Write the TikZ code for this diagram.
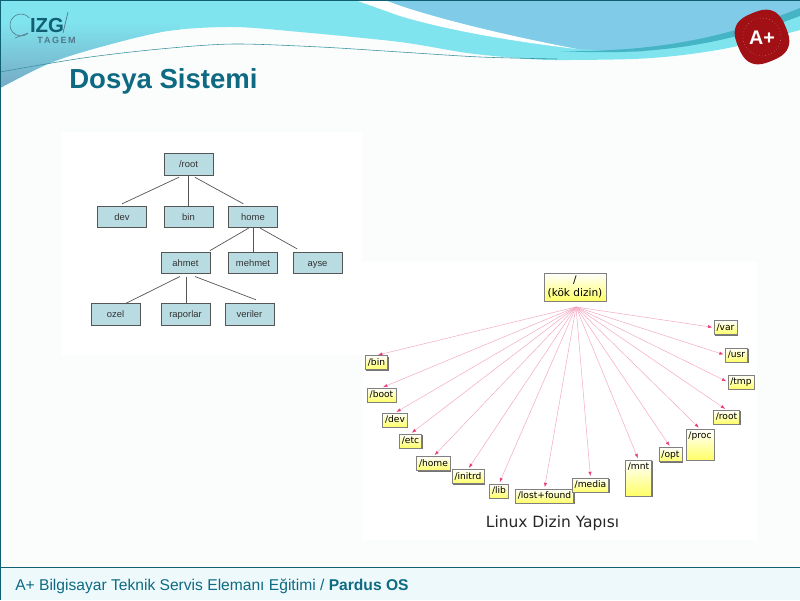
\documentclass[tikz,border=0pt]{standalone}
\usepackage{fontspec}
\setmainfont{Liberation Sans}
\newfontfamily\dejavu{DejaVu Sans}
\usepackage{xcolor}
\usetikzlibrary{arrows.meta, shadows, calc}
\definecolor{pagebg}{HTML}{FBFDFD}
\definecolor{edgeline}{HTML}{0F5F75}
\definecolor{titleblue}{HTML}{0E6A82}
\definecolor{footerbg}{HTML}{EEF9FC}
\definecolor{cyantop}{HTML}{7FE4EE}
\definecolor{steelblue}{HTML}{76A9C4}
\definecolor{skyblue}{HTML}{80CCE8}
\definecolor{bandteal}{HTML}{45B5C5}
\definecolor{sealred}{HTML}{A01015}
\definecolor{treefill}{HTML}{B8DCE2}
\definecolor{treeline}{HTML}{555555}
\definecolor{linkpink}{HTML}{F5A8C4}
\definecolor{tippink}{HTML}{E83E78}
\definecolor{boxyellow}{HTML}{FFFF66}

\begin{document}
\begin{tikzpicture}[
    x=0.25mm, y=-0.25mm,
    treebox/.style={draw=treeline, line width=0.5pt, fill=treefill, minimum width=12.2mm,
                    minimum height=5.4mm, inner sep=0pt, text=black!80,
                    text height=2mm, text depth=0.4mm,
                    font=\fontsize{6.7}{8}\selectfont},
    treeline/.style={draw=treeline, line width=0.5pt},
    yellowbox/.style={draw=black!50, line width=0.3pt, top color=white, bottom color=boxyellow,
                   drop shadow={shadow xshift=0.25mm, shadow yshift=-0.25mm, fill=black!55, opacity=1}},
    dirbox/.style={yellowbox, inner xsep=0.6mm, inner ysep=0.65mm, text height=1.75mm, text depth=0.45mm,
                   font=\dejavu\fontsize{6.5}{8}\selectfont},
    linkarrow/.style={-{Latex[length=1.1mm, width=0.8mm, color=tippink]}, draw=linkpink,
                      line width=0.35pt, shorten >=0.4mm}
  ]
    \useasboundingbox (0,0) rectangle (800,600);
    \fill[pagebg] (0,0) rectangle (800,600);

    % Banner
    \begin{scope}
      \clip plot[smooth] coordinates {(0,88) (50,63) (100,47) (167,31) (233,27) (300,32) (400,42)
            (467,53) (517,58) (553,60) (633,59) (683,55) (733,47) (800,30)} -- (800,0) -- (0,0) -- cycle;
      \fill[cyantop] (0,0) rectangle (800,88);
      \shade[top color=cyantop, bottom color=steelblue] (0,22) rectangle (180,88);
      \fill[skyblue] (385,0) .. controls (400,7) and (467,28) .. (577,49) -- (640,52)
            .. controls (700,42) and (760,30) .. (800,8) -- (800,0) -- cycle;
      \fill[white] (355,0) -- (385,0) .. controls (400,7) and (467,28) .. (577,49)
            .. controls (500,40) and (440,28) .. (400,16) -- cycle;
      \fill[bandteal] (560,51) .. controls (650,52) and (720,40) .. (800,8) -- (800,16)
            .. controls (720,46) and (650,56) .. cycle;
    \end{scope}
    \draw[bandteal!80!black, line width=0.4pt] plot[smooth] coordinates {(0,72) (83,58) (160,49) (233,44) (320,47) (400,52) (480,57) (557,59)};

    % Edge lines and footer
    \fill[footerbg] (0,567) rectangle (800,600);
    \draw[edgeline, line width=0.7pt] (0,567) -- (800,567);
    \draw[edgeline, line width=1.2pt] (0,600) -- (0,0) -- (800,0);

    % Logo
    \draw[steelblue!70!black, line width=0.4pt] (29.4,17.9) arc (-40:-310:11);
    \draw[steelblue!70!black, line width=0.4pt] (15,38) -- (28,33);
    \draw[steelblue!70!black, line width=0.5pt] (68,12) -- (63,33);
    \node[text=edgeline, font=\bfseries\fontsize{14.5}{15}\selectfont, inner sep=0pt] (logoname) at (47,25) {IZG};
    \node[text=steelblue!70!black, font=\bfseries\fontsize{6.4}{7}\selectfont, inner sep=0pt] (logosub) at (56.5,40.5) {T\,A\,G\,E\,M};

    % Seal
    \fill[sealred] plot[smooth cycle, domain=0:345, samples=24]
          ({762+(27+1.3*sin(4*\x))*cos(\x)},{37+(27+1.3*sin(4*\x))*sin(\x)});
    \draw[white!70!sealred, line width=0.3pt, dotted] (762,37) circle (19);
    \node[text=white, font=\bfseries\fontsize{14}{14}\selectfont, inner sep=0pt] (sealtext) at (762,38) {A+};

    % Title and footer text
    \node[anchor=base west, inner sep=0pt, text=titleblue, font=\bfseries\fontsize{19.6}{22}\selectfont] (title) at (69,88) {Dosya Sistemi};
    \node[anchor=base west, inner sep=0pt, text=titleblue, font=\fontsize{11.1}{13}\selectfont] (footer) at (15,590)
      {A+ Bilgisayar Teknik Servis Elemanı Eğitimi / \textbf{Pardus OS}};

    % Picture panels
    \fill[white] (62,132) rectangle (362,355);
    \fill[white] (362,262) rectangle (757,540);

    % First tree
    \node[treebox] (treeroot) at (188.5,164.5) {/root};
    \node[treebox] (dev) at (122,217) {dev};
    \node[treebox] (bin) at (188.5,217) {bin};
    \node[treebox] (home) at (253,217) {home};
    \node[treebox] (ahmet) at (185.5,263) {ahmet};
    \node[treebox] (mehmet) at (253,263) {mehmet};
    \node[treebox] (ayse) at (317.5,263) {ayse};
    \node[treebox] (ozel) at (115.5,314.5) {ozel};
    \node[treebox] (raporlar) at (185.5,314.5) {raporlar};
    \node[treebox] (veriler) at (249.5,314.5) {veriler};

    \draw[treeline] ([xshift=-2.4mm, yshift=-0.4mm]treeroot.south) -- ([yshift=0.5mm]dev.north);
    \draw[treeline] (treeroot.south) -- (bin.north);
    \draw[treeline] ([xshift=1.6mm, yshift=-0.4mm]treeroot.south) -- ([xshift=-2.4mm, yshift=0.5mm]home.north);
    \draw[treeline] ([xshift=-1.1mm]home.south) -- ([xshift=6.1mm, yshift=0.3mm]ahmet.north);
    \draw[treeline] (home.south) -- (mehmet.north);
    \draw[treeline] ([xshift=1.8mm]home.south) -- ([xshift=-5.1mm, yshift=0.75mm]ayse.north);
    \draw[treeline] ([xshift=-1.4mm, yshift=-0.6mm]ahmet.south) -- ([xshift=2.4mm, yshift=-0.1mm]ozel.north);
    \draw[treeline] ([xshift=0.1mm, yshift=-0.6mm]ahmet.south) -- ([xshift=0.1mm]raporlar.north);
    \draw[treeline] ([xshift=2.4mm, yshift=-0.6mm]ahmet.south) -- ([xshift=1.6mm, yshift=0.9mm]veriler.north);

    % Second tree
    \node[yellowbox, align=center, minimum width=15.4mm, minimum height=7mm, inner sep=0pt,
          font=\dejavu\fontsize{7.5}{9}\selectfont] (kokdizin) at (575,287) {/\\(kök dizin)};
    \coordinate (hub) at (576,307);

    \node[dirbox] (dbin) at (376.5,362.5) {/bin};
    \node[dirbox] (dboot) at (381.5,395) {/boot};
    \node[dirbox] (ddev) at (395,420) {/dev};
    \node[dirbox] (detc) at (410.5,441) {/etc};
    \node[dirbox] (dhome) at (433.5,463.5) {/home};
    \node[dirbox] (dinitrd) at (468,476.5) {/initrd};
    \node[dirbox] (dlib) at (499,491) {/lib};
    \node[dirbox] (dlost) at (544.5,496) {/lost+found};
    \node[dirbox] (dmedia) at (590.5,485) {/media};
    \node[dirbox, text depth=6mm] (dmnt) at (638.5,478) {/mnt};
    \node[dirbox, text depth=4.7mm] (dproc) at (700,444.5) {/proc};
    \node[dirbox] (dopt) at (670.5,454.5) {/opt};
    \node[dirbox] (droot) at (726.5,417) {/root};
    \node[dirbox] (dtmp) at (741,382) {/tmp};
    \node[dirbox] (dusr) at (736.5,355) {/usr};
    \node[dirbox] (dvar) at (725.5,327.5) {/var};

    \draw[linkarrow] (hub) -- (dbin.north);
    \draw[linkarrow] (hub) -- (dboot.north);
    \draw[linkarrow] (hub) -- (ddev.north);
    \draw[linkarrow] (hub) -- (detc.north);
    \draw[linkarrow] (hub) -- (dhome.north);
    \draw[linkarrow] (hub) -- (dinitrd.north);
    \draw[linkarrow] (hub) -- (dlib.north);
    \draw[linkarrow] (hub) -- (dlost.north);
    \draw[linkarrow] (hub) -- (dmedia.north);
    \draw[linkarrow] (hub) -- (dmnt.north);
    \draw[linkarrow] (hub) -- (dopt.north);
    \draw[linkarrow] (hub) -- (dproc.north);
    \draw[linkarrow] (hub) -- (droot.north);
    \draw[linkarrow] (hub) -- (dtmp.west);
    \draw[linkarrow] (hub) -- (dusr.west);
    \draw[linkarrow] (hub) -- (dvar.west);

    \node[font=\dejavu\fontsize{11}{12}\selectfont, text=black!85, inner sep=0pt] (caption) at (552.5,523) {Linux Dizin Yapısı};
  \end{tikzpicture}
\end{document}
